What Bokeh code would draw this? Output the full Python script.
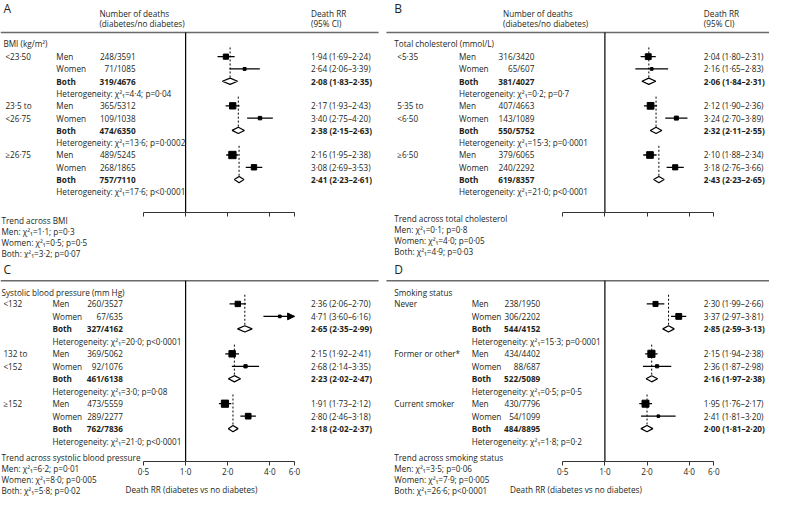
import math
from bokeh.plotting import figure
from bokeh.layouts import gridplot
from bokeh.models import Range1d, LogAxis, FixedTicker, CustomJSTickFormatter, ColumnDataSource
from bokeh.core.properties import value
from bokeh.embed import file_html
from bokeh.resources import INLINE

# ---------------- data ----------------
sexes = ["Men", "Women", "Both"]
ticks = [0.5, 1.0, 2.0, 4.0, 6.0]

# Panel A: BMI
a_title = "BMI (kg/m²)"
a_groups = ["<23·50", "23·5 to\n<26·75", "≥26·75"]
a_dm = [248, 71, 319, 365, 109, 474, 489, 268, 757]
a_nodm = [3591, 1085, 4676, 5312, 1038, 6350, 5245, 1865, 7110]
a_rr = [1.94, 2.64, 2.08, 2.17, 3.40, 2.38, 2.16, 3.08, 2.41]
a_lo = [1.69, 2.06, 1.83, 1.93, 2.75, 2.15, 1.95, 2.69, 2.23]
a_hi = [2.24, 3.39, 2.35, 2.43, 4.20, 2.63, 2.38, 3.53, 2.61]
a_het_chi = [4.4, 13.6, 17.6]
a_het_p = ["=0·04", "=0·0002", "<0·0001"]
a_trend_title = "Trend across BMI"
a_trend_chi = [1.1, 0.5, 3.2]
a_trend_p = ["=0·3", "=0·5", "=0·07"]

# Panel B: total cholesterol
b_title = "Total cholesterol (mmol/L)"
b_groups = ["<5·35", "5·35 to\n<6·50", "≥6·50"]
b_dm = [316, 65, 381, 407, 143, 550, 379, 240, 619]
b_nodm = [3420, 607, 4027, 4663, 1089, 5752, 6065, 2292, 8357]
b_rr = [2.04, 2.16, 2.06, 2.12, 3.24, 2.32, 2.10, 3.18, 2.43]
b_lo = [1.80, 1.65, 1.84, 1.90, 2.70, 2.11, 1.88, 2.76, 2.23]
b_hi = [2.31, 2.83, 2.31, 2.36, 3.89, 2.55, 2.34, 3.66, 2.65]
b_het_chi = [0.2, 15.3, 21.0]
b_het_p = ["=0·7", "=0·0001", "<0·0001"]
b_trend_title = "Trend across total cholesterol"
b_trend_chi = [0.1, 4.0, 4.9]
b_trend_p = ["=0·8", "=0·05", "=0·03"]

# Panel C: systolic blood pressure
c_title = "Systolic blood pressure (mm Hg)"
c_groups = ["<132", "132 to\n<152", "≥152"]
c_dm = [260, 67, 327, 369, 92, 461, 473, 289, 762]
c_nodm = [3527, 635, 4162, 5062, 1076, 6138, 5559, 2277, 7836]
c_rr = [2.36, 4.71, 2.65, 2.15, 2.68, 2.23, 1.91, 2.80, 2.18]
c_lo = [2.06, 3.60, 2.35, 1.92, 2.14, 2.02, 1.73, 2.46, 2.02]
c_hi = [2.70, 6.16, 2.99, 2.41, 3.35, 2.47, 2.12, 3.18, 2.37]
c_het_chi = [20.0, 3.0, 21.0]
c_het_p = ["<0·0001", "=0·08", "<0·0001"]
c_trend_title = "Trend across systolic blood pressure"
c_trend_chi = [6.2, 8.0, 5.8]
c_trend_p = ["=0·01", "=0·005", "=0·02"]

# Panel D: smoking status
d_title = "Smoking status"
d_groups = ["Never", "Former or other*", "Current smoker"]
d_dm = [238, 306, 544, 434, 88, 522, 430, 54, 484]
d_nodm = [1950, 2202, 4152, 4402, 687, 5089, 7796, 1099, 8895]
d_rr = [2.30, 3.37, 2.85, 2.15, 2.36, 2.16, 1.95, 2.41, 2.00]
d_lo = [1.99, 2.97, 2.59, 1.94, 1.87, 1.97, 1.76, 1.81, 1.81]
d_hi = [2.66, 3.81, 3.13, 2.38, 2.98, 2.38, 2.17, 3.20, 2.20]
d_het_chi = [15.3, 0.5, 1.8]
d_het_p = ["=0·0001", "=0·5", "=0·2"]
d_trend_title = "Trend across smoking status"
d_trend_chi = [3.5, 7.9, 26.6]
d_trend_p = ["=0·06", "=0·005", "<0·0001"]

panels = [
    dict(letter="A", title=a_title, groups=a_groups, dm=a_dm, nodm=a_nodm, rr=a_rr, lo=a_lo, hi=a_hi,
         het_chi=a_het_chi, het_p=a_het_p, trend_title=a_trend_title, trend_chi=a_trend_chi, trend_p=a_trend_p),
    dict(letter="B", title=b_title, groups=b_groups, dm=b_dm, nodm=b_nodm, rr=b_rr, lo=b_lo, hi=b_hi,
         het_chi=b_het_chi, het_p=b_het_p, trend_title=b_trend_title, trend_chi=b_trend_chi, trend_p=b_trend_p),
    dict(letter="C", title=c_title, groups=c_groups, dm=c_dm, nodm=c_nodm, rr=c_rr, lo=c_lo, hi=c_hi,
         het_chi=c_het_chi, het_p=c_het_p, trend_title=c_trend_title, trend_chi=c_trend_chi, trend_p=c_trend_p),
    dict(letter="D", title=d_title, groups=d_groups, dm=d_dm, nodm=d_nodm, rr=d_rr, lo=d_lo, hi=d_hi,
         het_chi=d_het_chi, het_p=d_het_p, trend_title=d_trend_title, trend_chi=d_trend_chi, trend_p=d_trend_p),
]

# ---------------- layout (reference pixel coordinates) ----------------
layouts = [
    dict(box=(0, 390, 0, 266), one=189, letter=(3, 8), header=(101, 317, 13, 24), rule=(0, 386, 33),
         title=(3, 44), group_x=5, sex_x=57, count_x=138, rr_x=317, row0=58, step=12.7,
         axis_y=219, labels=False, trend=(1, 227, 11.5)),
    dict(box=(390, 785, 0, 266), one=617, letter=(402, 8), header=(513, 718, 13, 24), rule=(394, 785, 33),
         title=(402, 44), group_x=405, sex_x=468, count_x=545, rr_x=718, row0=58, step=12.7,
         axis_y=219, labels=False, trend=(402, 225, 11.5)),
    dict(box=(0, 390, 266, 515), one=189, letter=(3, 277), header=None, rule=(0, 386, 289),
         title=(1, 301), group_x=3, sex_x=53, count_x=125, rr_x=317, row0=313, step=12.9,
         axis_y=476, labels=True, trend=(1, 472, 11.5)),
    dict(box=(390, 785, 266, 515), one=617, letter=(402, 277), header=None, rule=(394, 785, 289),
         title=(402, 301), group_x=402, sex_x=481, count_x=551, rr_x=718, row0=313, step=12.9,
         axis_y=476, labels=True, trend=(402, 472, 11.5)),
]

SX = 769 / 785
SY = 499 / 515
DOUBLING = 43.0
FONT = "Open Sans"
FS = "8.2px"
INK = "#231f20"


def dot(v, nd=2):
    return f"{v:.{nd}f}".replace(".", "·")


def make_panel(d, L):
    x0, x1, y0, y1 = L["box"]
    W = round((x1 - x0) * SX)
    H = round((y1 - y0) * SY)
    FH = round((L["axis_y"] - y0) * SY)
    c = L["one"]

    def xv(px):
        return 2 ** ((px - c) / DOUBLING)

    p = figure(frame_width=W, frame_height=FH, x_axis_type="log", x_range=Range1d(xv(x0), xv(x1)),
               y_range=Range1d(L["axis_y"], y0), x_axis_location=None, y_axis_location=None,
               toolbar_location=None, output_backend="svg",
               min_border_left=0, min_border_right=0, min_border_top=0, min_border_bottom=H - FH,
               outline_line_color=None, background_fill_color="white", border_fill_color="white")
    p.grid.visible = False

    tx, ty, tt, ta, tw, tsz = [], [], [], [], [], []

    def add(x, y, t, align="left", weight="normal", size=FS):
        tx.append(xv(x)); ty.append(y); tt.append(t); ta.append(align); tw.append(weight); tsz.append(size)

    add(L["letter"][0], L["letter"][1], d["letter"], size="12px")
    if L["header"]:
        hx1, hx2, hy1, hy2 = L["header"]
        add(hx1, hy1, "Number of deaths")
        add(hx1, hy2, "(diabetes/no diabetes)")
        add(hx2, hy1, "Death RR")
        add(hx2, hy2, "(95% CI)")
    add(L["title"][0], L["title"][1], d["title"])

    row0, step = L["row0"], L["step"]
    ys = []
    for g in range(3):
        for j, line in enumerate(d["groups"][g].split("\n")):
            add(L["group_x"], row0 + (g * 4 + j) * step, line)
        for s in range(3):
            i = g * 3 + s
            y = row0 + (g * 4 + s) * step
            ys.append(y)
            wt = "bold" if s == 2 else "normal"
            add(L["sex_x"], y, sexes[s], weight=wt)
            add(L["count_x"], y, f"{d['dm'][i]}/{d['nodm'][i]}", align="right", weight=wt)
            add(L["rr_x"], y, f"{dot(d['rr'][i])} ({dot(d['lo'][i])}–{dot(d['hi'][i])})", weight=wt)
        yh = row0 + (g * 4 + 3) * step
        add(L["sex_x"], yh, f"Heterogeneity: χ²₁={dot(d['het_chi'][g], 1)}; p{d['het_p'][g]}")

    trx, try0, trs = L["trend"]
    add(trx, try0, d["trend_title"])
    for s in range(3):
        add(trx, try0 + (s + 1) * trs, f"{sexes[s]}: χ²₁={dot(d['trend_chi'][s], 1)}; p{d['trend_p'][s]}")

    # rule and reference line
    rx0, rx1, ry = L["rule"]
    p.segment(x0=[xv(rx0)], y0=[ry], x1=[xv(rx1)], y1=[ry], line_color="#6a6a6a", line_width=1.6)
    p.segment(x0=[1.0], y0=[ry], x1=[1.0], y1=[L["axis_y"]], line_color="black", line_width=1.2)

    xmax = max(ticks)
    se = [(math.log(h) - math.log(l)) / 3.92 for l, h in zip(d["lo"], d["hi"])]

    # dashed lines at pooled estimate
    dx, dy0, dy1 = [], [], []
    for g in range(3):
        i = g * 3 + 2
        dx.append(d["rr"][i]); dy0.append(ys[g * 3] - 9.5); dy1.append(ys[i])
    p.segment(x0=dx, y0=dy0, x1=dx, y1=dy1, line_color="black", line_width=1, line_dash="2 2")

    # CIs and squares for men/women
    cx0, cx1, cy, sx, sy, ss = [], [], [], [], [], []
    ax_, ay_ = [], []
    for g in range(3):
        for s in range(2):
            i = g * 3 + s
            cx0.append(d["lo"][i]); cx1.append(min(d["hi"][i], xmax)); cy.append(ys[i])
            sx.append(d["rr"][i]); sy.append(ys[i]); ss.append(0.38 / se[i] * SX)
            if d["hi"][i] > xmax:
                tip = xmax
                base = xmax * 2 ** (-7 / DOUBLING)
                ax_.append([base, tip, base]); ay_.append([ys[i] - 3.5, ys[i], ys[i] + 3.5])
    p.segment(x0=cx0, y0=cy, x1=cx1, y1=cy, line_color="black", line_width=1.3)
    p.scatter(x=sx, y=sy, size=ss, marker="square", fill_color="black", line_color="black")
    if ax_:
        p.patches(xs=ax_, ys=ay_, fill_color="black", line_color="black")

    # diamonds for both
    dxs, dys = [], []
    for g in range(3):
        i = g * 3 + 2
        y = ys[i]
        dxs.append([d["lo"][i], d["rr"][i], d["hi"][i], d["rr"][i]])
        dys.append([y, y - 3.2, y, y + 3.2])
    p.patches(xs=dxs, ys=dys, fill_color="white", line_color="black", line_width=1.2)

    src = ColumnDataSource(dict(x=tx, y=ty, t=tt, a=ta, w=tw, s=tsz))
    p.text(x="x", y="y", text="t", source=src, text_align="a", text_font_style="w",
           text_font_size="s", text_font=value(FONT), text_baseline="middle", text_color=INK,
           level="overlay")

    if L["labels"]:
        fmt = CustomJSTickFormatter(code="return tick.toFixed(1).replace('.', '\u00b7')")
    else:
        fmt = CustomJSTickFormatter(code="return ''")
    ax = LogAxis(bounds=(min(ticks), max(ticks)), ticker=FixedTicker(ticks=ticks), formatter=fmt)
    ax.minor_tick_line_color = None
    ax.major_tick_in = 0
    ax.major_tick_out = 4
    ax.axis_line_color = "#333333"
    ax.major_tick_line_color = "#333333"
    ax.axis_line_width = 1.2
    ax.major_label_text_font = FONT
    ax.major_label_text_font_size = FS
    ax.major_label_text_color = INK
    ax.major_label_standoff = 0
    if L["labels"]:
        ax.axis_label = "Death RR (diabetes vs no diabetes)"
        ax.axis_label_text_font = FONT
        ax.axis_label_text_font_size = FS
        ax.axis_label_text_font_style = "normal"
        ax.axis_label_text_color = INK
        ax.axis_label_standoff = 4
    p.add_layout(ax, "below")
    return p


figs = [make_panel(d, L) for d, L in zip(panels, layouts)]
grid = gridplot([[figs[0], figs[1]], [figs[2], figs[3]]], toolbar_location=None)

open("out.html", "w").write(file_html(grid, INLINE))
